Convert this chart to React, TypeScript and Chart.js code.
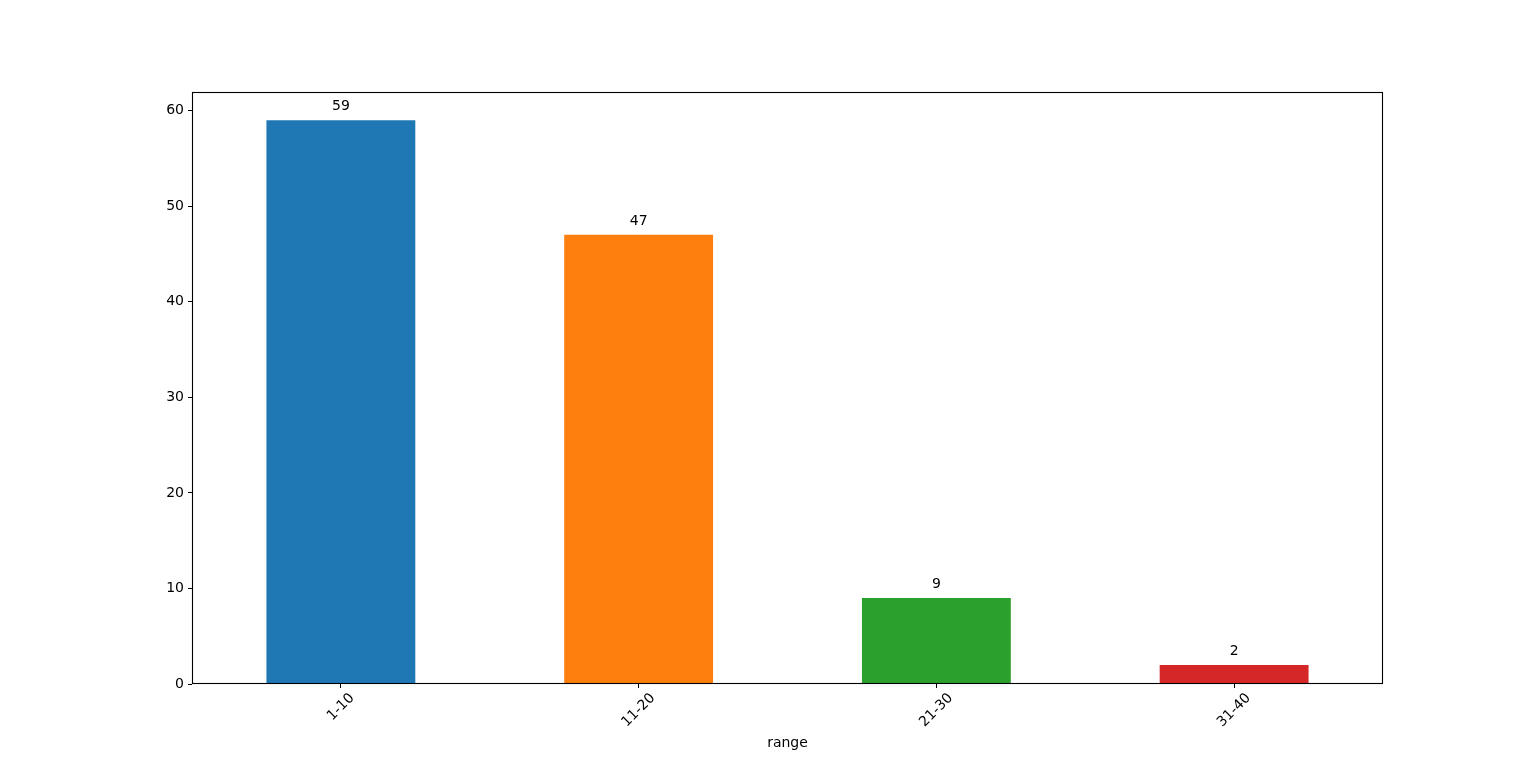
import React, { useEffect, useRef } from "react";
import { Chart, registerables } from "chart.js";

Chart.register(...registerables);

const categories = ["1-10", "11-20", "21-30", "31-40"];
const counts = [59, 47, 9, 2];
const barColors = ["#1f77b4", "#ff7f0e", "#2ca02c", "#d62728"];
const yTicks = [0, 10, 20, 30, 40, 50, 60];
const xTitle = "range";

const FONT = "DejaVu Sans";

export default function App() {
  const ref = useRef<HTMLCanvasElement | null>(null);

  useEffect(() => {
    if (!ref.current) return;
    const overlay = {
      id: "overlay",
      afterDraw(chart: any) {
        const ctx = chart.ctx;
        const ca = chart.chartArea;
        ctx.save();
        // frame
        ctx.strokeStyle = "#000";
        ctx.lineWidth = 1.1;
        ctx.strokeRect(ca.left + 0.5, ca.top + 0.5, ca.right - ca.left - 1, ca.bottom - ca.top - 1);
        // value labels
        ctx.fillStyle = "#000";
        ctx.font = `14px "${FONT}"`;
        ctx.textAlign = "center";
        ctx.textBaseline = "alphabetic";
        const meta = chart.getDatasetMeta(0);
        meta.data.forEach((bar: any, i: number) => {
          ctx.fillText(String(counts[i]), bar.x, bar.y - 10);
        });
        // rotated x labels
        const xs = chart.scales.x;
        categories.forEach((c, i) => {
          const x = xs.getPixelForValue(i);
          const w = ctx.measureText(c).width;
          const h = 14;
          const bb = (w + h) / Math.SQRT2;
          const cy = ca.bottom + 7 + bb / 2;
          ctx.save();
          ctx.translate(x, cy);
          ctx.rotate(-Math.PI / 4);
          ctx.textBaseline = "middle";
          ctx.fillText(c, 0, 0);
          ctx.restore();
        });
        ctx.fillText(xTitle, (ca.left + ca.right) / 2, 747);
        ctx.restore();
      },
    };

    const chart = new Chart(ref.current, {
      type: "bar",
      data: {
        labels: categories,
        datasets: [
          {
            data: counts,
            backgroundColor: barColors,
            borderWidth: 0,
            barPercentage: 0.5,
            categoryPercentage: 1.0,
          },
        ],
      },
      options: {
        responsive: false,
        animation: false,
        layout: { padding: { left: 0, right: 153, top: 92, bottom: 0 } },
        plugins: { legend: { display: false }, tooltip: { enabled: false } },
        scales: {
          x: {
            offset: true,
            grid: {
              display: true,
              drawOnChartArea: false,
              drawTicks: true,
              tickLength: 4,
              tickColor: "#000",
              offset: false,
            },
            border: { display: false },
            ticks: { display: false },
            afterFit(scale: any) {
              scale.height = 83;
            },
          },
          y: {
            min: 0,
            max: 61.95,
            grid: {
              drawOnChartArea: false,
              drawTicks: true,
              tickLength: 4,
              tickColor: "#000",
            },
            border: { display: false },
            ticks: {
              stepSize: 10,
              color: "#000",
              padding: 4,
              font: { family: FONT, size: 14 },
            },
            afterBuildTicks(scale: any) {
              scale.ticks = yTicks.map((v) => ({ value: v }));
            },
            afterFit(scale: any) {
              scale.width = 192;
            },
          },
        },
      },
      plugins: [overlay],
    });
    return () => chart.destroy();
  }, []);

  return (
    <canvas
      ref={ref}
      width={1536}
      height={767}
      style={{ position: "absolute", left: 0, top: 0, display: "block" }}
    />
  );
}
